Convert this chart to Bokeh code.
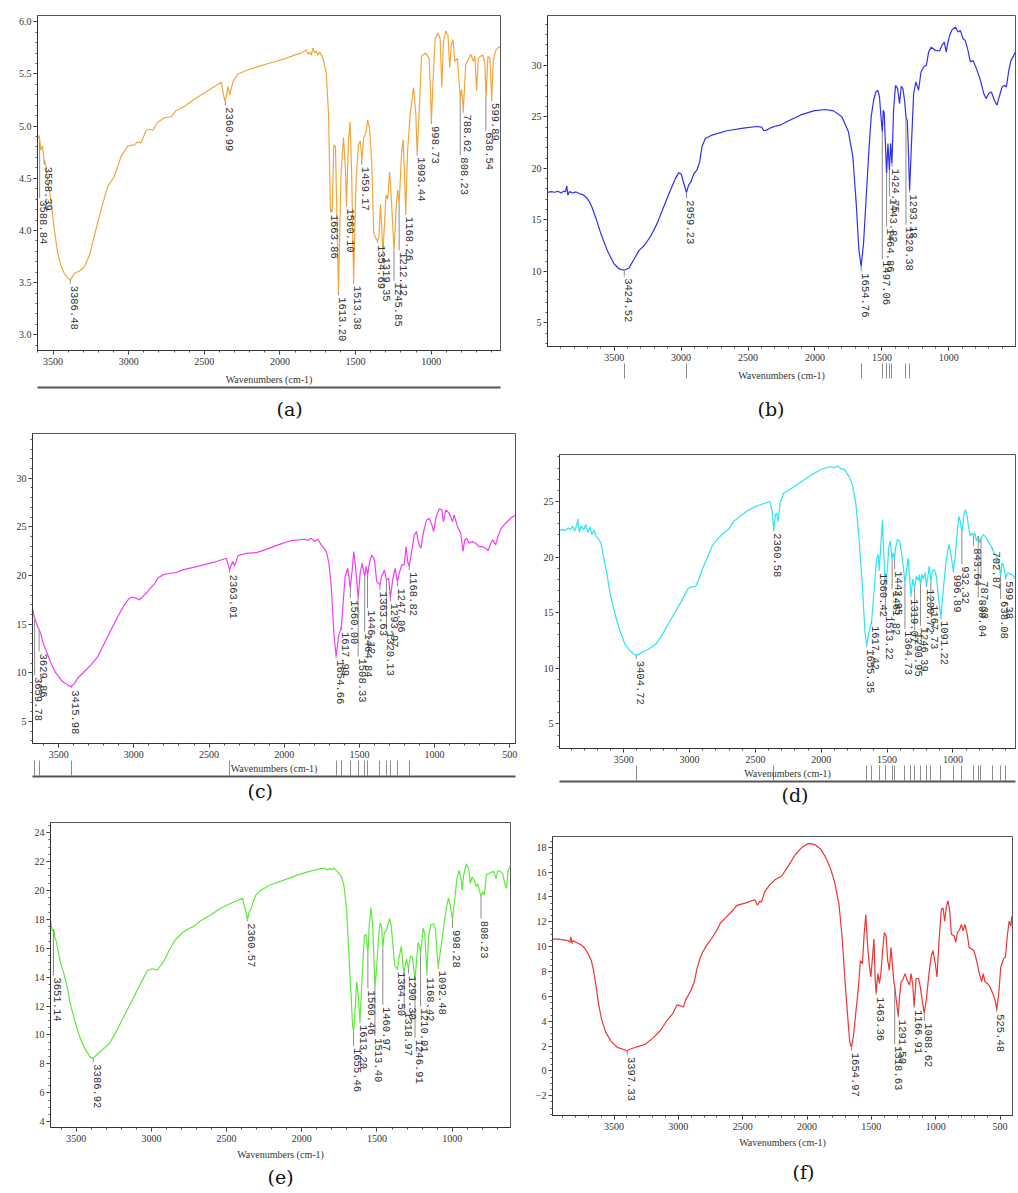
import math
from bokeh.plotting import figure
from bokeh.models import (Range1d, SingleIntervalTicker, FixedTicker, LinearAxis,
                          PrintfTickFormatter, Title)
from bokeh.layouts import column, row
from bokeh.core.properties import value
from bokeh.embed import file_html
from bokeh.resources import INLINE

# ---------------- data (wavenumber cm-1, %T) ----------------
A_SPEC = [(3603,4.88),(3592,4.91),(3581,4.77),(3570,4.81),(3559,4.67),(3548,4.63),(3537,4.48),(3515,4.30),(3492,4.01),(3470,3.79),(3448,3.66),(3426,3.59),(3400,3.54),(3386,3.53),(3374,3.55),(3360,3.59),(3327,3.61),(3294,3.65),(3260,3.76),(3227,3.95),(3183,4.20),(3139,4.42),(3095,4.52),(3050,4.71),(3006,4.81),(2962,4.82),(2940,4.85),(2918,4.84),(2885,4.96),(2863,4.97),(2841,4.96),(2807,5.04),(2763,5.08),(2719,5.09),(2686,5.15),(2631,5.19),(2564,5.26),(2498,5.32),(2432,5.38),(2388,5.42),(2365,5.24),(2354,5.29),(2343,5.38),(2332,5.30),(2310,5.43),(2277,5.50),(2211,5.54),(2122,5.58),(2078,5.60),(1969,5.645),(1903,5.68),(1859,5.70),(1826,5.73),(1815,5.69),(1804,5.71),(1793,5.68),(1782,5.75),(1771,5.70),(1760,5.72),(1749,5.68),(1738,5.71),(1716,5.65),(1694,5.51),(1679,5.12),(1666,4.20),(1655,4.18),(1644,4.82),(1633,4.80),(1624,4.17),(1613,3.41),(1602,4.17),(1596,4.55),(1580,4.89),(1567,4.58),(1560,4.25),(1547,4.86),(1536,5.04),(1525,4.48),(1513,3.52),(1497,4.48),(1481,4.82),(1468,4.86),(1459,4.67),(1446,4.89),(1431,4.94),(1420,5.06),(1407,4.97),(1393,4.64),(1380,3.98),(1365,3.92),(1355,3.90),(1345,3.95),(1336,4.25),(1328,4.04),(1319,3.79),(1299,4.34),(1288,4.30),(1275,4.56),(1262,4.26),(1246,3.81),(1231,4.23),(1222,4.39),(1212,4.26),(1196,4.74),(1185,4.87),(1168,4.17),(1157,4.74),(1139,5.12),(1117,5.37),(1102,5.12),(1093,4.74),(1080,5.12),(1064,5.67),(1036,5.70),(1014,5.65),(1005,5.34),(999,5.04),(988,5.43),(974,5.84),(955,5.89),(941,5.84),(930,5.37),(919,5.81),(904,5.91),(889,5.87),(878,5.56),(867,5.78),(856,5.83),(845,5.62),(827,5.65),(808,5.27),(799,5.35),(788,5.15),(772,5.59),(750,5.65),(739,5.69),(721,5.62),(711,5.67),(700,5.34),(689,5.65),(674,5.67),(658,5.68),(645,5.60),(638,5.27),(625,5.67),(612,5.65),(600,5.26),(590,5.62),(575,5.72),(553,5.76),(542,5.75)]
A_PK = [3588.84, 3558.39, 3386.48, 2360.99, 1663.86, 1613.20, 1560.10, 1513.38, 1459.17, 1354.69, 1319.35, 1245.85, 1212.12, 1168.26, 1093.44, 998.73, 808.23, 788.62, 638.54, 599.89]
A_PK_V = [4.85, 4.67, 3.53, 5.24, 4.20, 3.41, 4.25, 3.52, 4.67, 3.90, 3.79, 3.81, 4.26, 4.17, 4.74, 5.04, 5.27, 5.15, 5.27, 5.26]
A_TX_V = [4.31, 4.63, 3.49, 5.20, 4.17, 3.38, 4.23, 3.49, 4.63, 3.88, 3.76, 3.52, 3.81, 4.15, 4.72, 5.02, 4.72, 5.13, 4.96, 5.24]

B_SPEC = [(4002,17.65),(3970,17.74),(3945,17.68),(3921,17.77),(3896,17.61),(3876,17.81),(3864,17.71),(3854,18.29),(3846,17.39),(3834,17.74),(3809,17.61),(3785,17.71),(3760,17.55),(3735,17.45),(3718,17.29),(3703,17.10),(3686,16.77),(3668,16.29),(3636,15.16),(3599,13.64),(3549,11.94),(3500,10.71),(3463,10.23),(3426,10.10),(3389,10.32),(3351,11.19),(3314,12.03),(3277,12.48),(3228,13.39),(3178,14.68),(3129,16.29),(3079,17.90),(3042,19.03),(3017,19.58),(3000,19.45),(2980,18.55),(2960,17.65),(2943,18.39),(2926,18.71),(2906,19.45),(2881,19.84),(2861,20.65),(2844,22.10),(2819,22.90),(2770,23.23),(2658,23.65),(2535,23.90),(2436,24.06),(2399,24.00),(2381,23.65),(2361,23.71),(2337,23.90),(2287,24.13),(2261,24.19),(2211,24.52),(2111,25.16),(2011,25.58),(1924,25.71),(1862,25.58),(1799,25.00),(1750,23.55),(1717,21.13),(1692,16.61),(1672,12.10),(1655,10.48),(1637,12.74),(1617,17.26),(1597,21.77),(1580,25.00),(1562,26.61),(1545,27.42),(1530,27.58),(1518,26.94),(1508,25.20),(1497,23.55),(1490,25.65),(1483,25.39),(1465,19.52),(1455,22.42),(1444,19.84),(1435,22.42),(1425,20.48),(1413,25.65),(1398,28.06),(1383,27.74),(1368,26.29),(1355,27.97),(1343,27.74),(1330,26.50),(1320,25.00),(1310,24.60),(1303,22.10),(1293,17.90),(1281,21.77),(1263,27.26),(1246,28.39),(1226,27.58),(1208,29.35),(1188,29.84),(1168,30.00),(1151,31.29),(1131,31.77),(1101,31.45),(1069,31.39),(1051,31.94),(1034,32.26),(1019,31.29),(1009,32.10),(994,32.90),(976,33.45),(951,33.71),(931,33.23),(914,33.39),(894,32.58),(877,32.42),(857,31.45),(839,30.32),(819,30.48),(794,29.68),(764,28.55),(739,27.26),(722,26.77),(702,27.26),(682,27.42),(660,26.61),(640,26.13),(620,27.10),(602,27.90),(585,28.06),(570,27.90),(552,29.52),(535,30.48),(515,30.97),(503,31.29)]
B_PK = [3424.52, 2959.23, 1654.76, 1497.06, 1464.86, 1443.82, 1424.75, 1320.38, 1293.18]
B_PK_V = [10.10, 17.65, 10.48, 23.55, 19.52, 19.84, 20.48, 25.00, 17.90]
B_TX_V = [9.52, 17.10, 10.00, 11.19, 14.35, 17.26, 20.16, 14.52, 17.65]

C_SPEC = [(3674,16.64),(3663,15.79),(3651,15.27),(3640,14.76),(3629,14.42),(3618,14.00),(3607,13.22),(3585,12.36),(3551,10.99),(3518,9.96),(3474,9.11),(3429,8.66),(3416,8.62),(3396,8.87),(3374,9.45),(3329,10.14),(3285,10.82),(3240,11.68),(3196,13.05),(3152,14.42),(3107,15.79),(3063,16.99),(3030,17.67),(3007,17.77),(2985,17.67),(2963,17.50),(2952,17.67),(2930,18.01),(2919,18.18),(2896,18.60),(2863,19.14),(2841,19.73),(2808,20.07),(2763,20.24),(2718,20.31),(2674,20.58),(2563,20.99),(2452,21.44),(2385,21.78),(2363,20.58),(2352,21.10),(2341,21.44),(2330,20.99),(2307,22.05),(2252,22.29),(2185,22.36),(2129,22.64),(2041,23.15),(1952,23.60),(1864,23.73),(1842,23.60),(1820,23.84),(1798,23.49),(1776,23.73),(1754,23.15),(1720,22.47),(1703,21.27),(1687,18.87),(1670,14.07),(1655,11.68),(1639,13.73),(1620,14.76),(1610,16.81),(1595,19.90),(1577,20.75),(1561,18.70),(1548,20.58),(1537,22.47),(1526,20.92),(1508,17.67),(1495,20.24),(1482,21.27),(1465,19.90),(1455,20.92),(1446,20.07),(1433,21.27),(1418,22.12),(1400,21.61),(1385,19.38),(1364,19.04),(1352,19.90),(1334,20.58),(1320,19.55),(1305,19.73),(1294,17.67),(1279,19.55),(1263,20.75),(1247,19.38),(1235,20.24),(1219,21.10),(1202,21.10),(1190,22.98),(1179,21.44),(1169,20.92),(1151,22.64),(1135,24.18),(1120,24.52),(1107,23.32),(1091,22.81),(1073,24.52),(1054,25.72),(1036,25.89),(1018,25.21),(1007,24.52),(992,25.89),(970,26.85),(952,26.75),(941,25.55),(925,26.75),(903,26.40),(881,25.55),(870,26.23),(848,25.03),(826,24.35),(811,22.47),(800,23.66),(786,23.84),(771,23.32),(749,23.49),(727,23.32),(705,22.98),(683,22.98),(661,22.81),(643,22.57),(627,23.32),(612,23.66),(594,23.15),(579,24.00),(557,24.86),(528,25.38),(495,25.89),(462,26.23)]
C_PK = [3659.78, 3629.86, 3415.98, 2363.01, 1654.66, 1617.99, 1560.00, 1508.33, 1464.84, 1446.12, 1363.63, 1320.13, 1293.97, 1247.06, 1168.82]
C_PK_V = [15.50, 14.42, 8.62, 20.58, 11.68, 14.76, 18.70, 17.67, 19.90, 20.07, 19.04, 19.55, 17.67, 19.38, 20.92]
C_TX_V = [9.79, 12.19, 8.42, 20.30, 11.50, 14.40, 17.67, 11.68, 14.25, 16.64, 18.53, 14.42, 17.33, 18.87, 20.58]

D_SPEC = [(3988,22.41),(3968,22.47),(3943,22.38),(3923,22.62),(3905,22.47),(3888,22.77),(3873,22.32),(3855,23.01),(3848,23.42),(3838,22.23),(3823,22.83),(3805,22.41),(3788,22.92),(3773,22.23),(3755,22.71),(3743,22.02),(3725,22.41),(3710,21.88),(3693,21.64),(3673,21.28),(3655,20.09),(3630,18.60),(3605,16.82),(3567,14.88),(3530,13.39),(3492,12.20),(3455,11.61),(3417,11.22),(3404,11.20),(3392,11.22),(3355,11.46),(3305,11.76),(3254,12.20),(3204,13.10),(3154,14.14),(3104,15.18),(3054,16.22),(3011,17.17),(2979,17.35),(2954,17.35),(2929,18.01),(2904,18.90),(2866,19.94),(2829,20.98),(2791,21.58),(2741,22.17),(2704,22.47),(2666,23.21),(2616,23.66),(2566,24.11),(2503,24.55),(2441,24.79),(2391,25.00),(2373,24.11),(2361,22.47),(2348,23.81),(2340,23.96),(2329,23.21),(2312,24.85),(2287,25.74),(2224,26.19),(2150,26.79),(2075,27.38),(2000,27.89),(1937,28.12),(1900,28.04),(1875,28.18),(1850,27.95),(1825,27.89),(1788,27.23),(1763,26.49),(1738,24.85),(1713,21.58),(1688,17.41),(1668,13.24),(1655,12.05),(1638,13.24),(1618,14.14),(1600,16.82),(1580,19.79),(1568,20.24),(1560,18.90),(1545,21.58),(1536,23.30),(1526,20.39),(1513,17.41),(1501,18.60),(1486,20.98),(1476,21.43),(1462,19.79),(1453,20.39),(1443,19.85),(1436,20.83),(1421,21.58),(1406,21.43),(1391,20.39),(1376,19.00),(1365,17.71),(1354,18.60),(1341,19.94),(1330,18.30),(1319,16.52),(1305,18.01),(1291,17.20),(1278,18.30),(1262,17.90),(1255,18.40),(1246,17.50),(1236,18.45),(1224,18.01),(1212,18.60),(1201,17.41),(1190,18.30),(1180,19.20),(1168,17.80),(1156,18.75),(1141,18.90),(1126,18.30),(1109,16.22),(1091,14.58),(1071,17.41),(1051,19.79),(1031,21.13),(1019,20.54),(997,18.75),(985,19.79),(968,22.17),(955,23.66),(944,23.21),(932,22.17),(919,23.66),(907,24.26),(894,23.81),(882,22.77),(869,21.88),(857,22.17),(844,21.88),(834,22.17),(822,21.43),(808,21.88),(797,21.28),(787,21.64),(772,22.02),(752,21.82),(732,21.43),(703,20.83),(689,20.39),(670,20.09),(652,19.49),(638,18.30),(627,19.49),(615,19.20),(599,18.15),(582,18.60),(565,18.45),(550,18.45),(535,18.20),(525,18.00)]
D_PK = [3404.72, 2360.58, 1655.35, 1617.42, 1560.42, 1513.22, 1461.82, 1442.95, 1364.73, 1319.07, 1290.95, 1246.39, 1200.72, 1167.73, 1091.22, 996.89, 932.32, 843.64, 808.04, 787.33, 702.87, 638.08, 599.38]
D_PK_V = [11.20, 22.47, 12.05, 14.14, 18.90, 17.41, 19.79, 19.85, 17.71, 16.52, 17.20, 17.50, 17.41, 17.80, 14.58, 18.75, 22.17, 21.88, 21.88, 21.64, 20.83, 18.30, 18.15]
D_TX_V = [10.86, 22.32, 11.90, 13.99, 18.75, 14.88, 17.11, 18.90, 13.54, 16.40, 13.39, 13.84, 17.30, 15.86, 14.43, 18.60, 19.35, 20.98, 16.37, 18.00, 20.68, 16.22, 18.00]

E_SPEC = [(3671,17.98),(3665,17.53),(3658,17.19),(3649,17.30),(3642,16.73),(3633,16.50),(3627,16.16),(3616,15.60),(3605,15.03),(3582,14.24),(3560,13.33),(3538,12.08),(3505,10.83),(3471,9.70),(3438,8.97),(3405,8.45),(3387,8.38),(3360,8.67),(3327,8.97),(3283,9.36),(3238,10.15),(3194,11.06),(3149,11.97),(3105,12.87),(3061,13.78),(3027,14.46),(2994,14.58),(2961,14.51),(2938,14.80),(2916,15.14),(2894,15.60),(2872,16.05),(2838,16.62),(2794,17.07),(2750,17.37),(2716,17.53),(2672,17.91),(2605,18.32),(2539,18.77),(2472,19.11),(2394,19.46),(2372,18.55),(2361,17.98),(2350,18.55),(2339,18.66),(2323,19.23),(2305,19.68),(2272,20.02),(2214,20.36),(2125,20.70),(2036,21.04),(1947,21.32),(1880,21.50),(1847,21.54),(1830,21.42),(1813,21.52),(1800,21.44),(1787,21.56),(1764,21.32),(1736,20.93),(1720,20.36),(1702,18.77),(1689,16.05),(1675,13.33),(1662,10.60),(1655,10.26),(1647,11.51),(1635,13.67),(1624,12.65),(1613,10.94),(1600,13.78),(1584,16.85),(1573,16.96),(1560,15.60),(1551,17.64),(1540,18.82),(1529,17.64),(1513,13.33),(1502,14.69),(1491,16.50),(1480,17.75),(1469,17.53),(1461,16.05),(1451,17.07),(1435,17.30),(1417,18.05),(1406,17.64),(1395,16.39),(1382,14.80),(1364,14.58),(1353,15.37),(1337,16.16),(1326,14.60),(1319,14.35),(1304,15.26),(1290,14.58),(1277,15.48),(1264,15.37),(1247,13.78),(1237,15.14),(1226,16.39),(1215,16.05),(1210,15.60),(1193,17.41),(1182,16.96),(1168,14.24),(1157,16.73),(1142,17.64),(1124,17.68),(1111,17.30),(1100,15.60),(1092,14.69),(1075,16.05),(1057,17.41),(1039,18.77),(1024,19.46),(1013,19.00),(998,17.98),(986,19.11),(968,20.82),(953,21.38),(939,20.70),(933,20.02),(924,21.04),(906,21.84),(890,21.50),(879,20.48),(868,20.93),(853,20.70),(841,20.25),(830,20.48),(819,20.02),(808,19.57),(797,19.91),(786,19.68),(772,21.09),(746,21.23),(723,21.32),(708,20.82),(697,21.38),(679,21.32),(664,21.16),(650,20.48),(639,20.14),(628,21.38),(612,21.72)]
E_PK = [3651.14, 3386.92, 2360.57, 1655.46, 1613.20, 1560.46, 1513.40, 1460.97, 1364.50, 1318.97, 1290.30, 1246.91, 1210.01, 1168.42, 1092.48, 998.28, 808.23]
E_PK_V = [17.30, 8.38, 17.98, 10.26, 10.94, 15.60, 13.33, 16.05, 14.58, 14.35, 14.58, 13.78, 15.60, 14.24, 14.69, 17.98, 19.57]
E_TX_V = [14.12, 8.11, 17.87, 9.24, 10.83, 13.21, 9.92, 12.08, 14.50, 11.74, 14.24, 9.81, 11.97, 14.12, 14.58, 17.41, 18.05]

F_SPEC = [(3978,10.61),(3932,10.61),(3881,10.53),(3855,10.48),(3843,10.34),(3835,10.79),(3827,10.26),(3817,10.48),(3792,10.34),(3754,10.13),(3728,9.89),(3703,9.47),(3677,8.89),(3659,8.10),(3639,6.78),(3621,5.46),(3596,4.13),(3563,3.08),(3525,2.42),(3474,1.89),(3397,1.62),(3372,1.76),(3321,1.94),(3257,2.15),(3194,2.68),(3143,3.21),(3092,4.00),(3041,4.66),(3010,5.32),(2985,5.24),(2960,5.14),(2944,5.72),(2921,6.12),(2901,6.51),(2876,7.17),(2858,8.10),(2837,8.89),(2812,9.55),(2774,10.21),(2736,10.74),(2697,11.40),(2672,11.93),(2634,12.32),(2583,12.85),(2545,13.33),(2481,13.51),(2405,13.78),(2385,13.33),(2367,13.65),(2354,13.59),(2328,14.44),(2290,14.97),(2252,15.36),(2195,15.71),(2143,16.55),(2091,17.40),(2038,18.01),(1999,18.27),(1973,18.30),(1934,18.19),(1895,17.87),(1856,17.21),(1817,16.29),(1783,15.10),(1751,13.38),(1725,10.48),(1705,7.31),(1686,4.66),(1668,2.29),(1655,1.89),(1639,2.81),(1621,4.66),(1600,6.78),(1585,8.89),(1569,8.63),(1556,11.00),(1543,12.59),(1530,10.21),(1517,8.63),(1504,7.57),(1491,9.15),(1480,10.61),(1470,7.31),(1463,6.25),(1450,7.83),(1437,7.04),(1426,7.83),(1412,9.68),(1399,11.14),(1386,10.87),(1373,8.89),(1360,8.10),(1347,9.95),(1334,8.23),(1325,7.17),(1318,6.78),(1305,5.60),(1291,4.40),(1282,5.85),(1269,7.17),(1256,7.31),(1238,7.83),(1222,7.31),(1204,6.91),(1191,7.83),(1178,6.91),(1167,5.19),(1152,7.44),(1133,7.44),(1120,6.78),(1105,5.72),(1089,4.66),(1073,5.72),(1052,7.83),(1034,9.29),(1021,9.68),(1003,8.63),(990,7.57),(974,10.48),(956,12.99),(943,13.12),(930,12.06),(917,13.25),(904,13.70),(891,12.85),(878,11.00),(857,10.87),(844,10.34),(831,11.14),(813,11.40),(800,11.80),(787,11.27),(773,11.80),(755,11.00),(740,9.95),(721,9.82),(703,9.68),(682,8.89),(661,7.83),(643,7.17),(630,7.83),(617,7.17),(599,7.04),(578,6.78),(557,6.25),(539,5.72),(525,4.93),(510,6.25),(494,8.36),(473,9.02),(458,9.15),(442,11.00),(429,12.06),(416,11.66),(408,12.46),(403,12.33)]
F_PK = [3397.33, 1654.97, 1463.36, 1318.63, 1291.50, 1166.91, 1088.62, 525.48]
F_PK_V = [1.62, 1.89, 6.25, 6.78, 4.40, 5.19, 4.66, 4.93]
F_TX_V = [1.28, 1.62, 6.12, 2.15, 4.27, 5.06, 4.00, 4.72]

X_LABEL = "Wavenumbers (cm-1)"
CAPTIONS = ["(a)", "(b)", "(c)", "(d)", "(e)", "(f)"]
COLORS = ["#F2A63A", "#3030F0", "#F23EF2", "#2DE4F0", "#5CEB3C", "#EE3434"]

NARROW = "Liberation Sans Narrow"


def panel(spec, pk, pk_v, tx_v, color, xr, yr, yint, yminor, yfmt,
          w, h, mbl, mbr, mbt, mbb, caption, cap_offset, cap_standoff,
          markers=None, separator=False, lab_standoff=4):
    xs = [a for a, _ in spec]
    ys = [b for _, b in spec]
    p = figure(width=w, height=h, x_range=Range1d(*xr), y_range=Range1d(*yr),
               toolbar_location=None, output_backend="svg", title=None,
               min_border_left=mbl, min_border_right=mbr,
               min_border_top=mbt, min_border_bottom=mbb,
               background_fill_color="white", border_fill_color="white",
               outline_line_color="#555555", outline_line_width=1)
    p.frame_align = False
    p.xgrid.visible = False
    p.ygrid.visible = False
    p.line(xs, ys, line_color=color, line_width=1.2)
    p.segment(x0=pk, y0=pk_v, x1=pk, y1=tx_v, line_color="#8c8c8c", line_width=1)
    p.text(x=pk, y=tx_v, text=[f"{v:.2f}" for v in pk], angle=-math.pi / 2,
           text_align="left", text_baseline="middle",
           text_font=value("Liberation Mono"), text_font_size="10.5px",
           text_color="#333333", x_offset=4, y_offset=2)

    xa = p.xaxis[0]
    xa.ticker = SingleIntervalTicker(interval=500, num_minor_ticks=5)
    xa.major_label_text_font = NARROW
    xa.major_label_text_font_size = "10px"
    xa.major_label_text_color = "#333333"
    xa.major_tick_out = 4
    xa.major_tick_in = 0
    xa.minor_tick_out = 2
    xa.minor_tick_in = 0
    xa.major_label_standoff = 3
    xa.axis_line_color = "#333333"
    xa.major_tick_line_color = "#333333"
    xa.minor_tick_line_color = "#555555"

    ya = p.yaxis[0]
    ya.ticker = SingleIntervalTicker(interval=yint, num_minor_ticks=yminor)
    if yfmt:
        ya.formatter = PrintfTickFormatter(format=yfmt)
    ya.major_label_text_font = NARROW
    ya.major_label_text_font_size = "10px"
    ya.major_label_text_color = "#333333"
    ya.major_tick_out = 4
    ya.major_tick_in = 0
    ya.minor_tick_out = 2
    ya.minor_tick_in = 0
    ya.major_label_standoff = 2
    ya.axis_line_color = "#333333"
    ya.major_tick_line_color = "#333333"
    ya.minor_tick_line_color = "#555555"

    lab_kw = dict(axis_label=X_LABEL, axis_label_text_font=NARROW,
                  axis_label_text_font_size="10px",
                  axis_label_text_font_style="normal",
                  axis_label_text_color="#333333")
    if markers is None:
        for k, v in lab_kw.items():
            setattr(xa, k, v)
        xa.axis_label_standoff = lab_standoff
    else:
        mk = LinearAxis(ticker=FixedTicker(ticks=markers, minor_ticks=[]),
                        axis_line_color=None, major_tick_in=0, major_tick_out=15,
                        major_tick_line_color="#8c8c8c", minor_tick_line_color=None,
                        major_label_text_font_size="1px",
                        major_label_text_color=None, major_label_text_alpha=0,
                        major_label_standoff=0,
                        axis_label_standoff=lab_standoff, **lab_kw)
        p.add_layout(mk, "below")
    if separator:
        sep = LinearAxis(ticker=FixedTicker(ticks=[], minor_ticks=[]),
                         axis_line_color="#555555", axis_line_width=2,
                         major_tick_out=0, major_tick_in=0, minor_tick_out=0,
                         minor_tick_in=0, major_label_text_font_size="1px",
                         major_label_text_color=None, major_label_standoff=0)
        p.add_layout(sep, "below")
    p.add_layout(Title(text=caption, align="left", offset=cap_offset,
                       standoff=cap_standoff, text_font="DejaVu Serif",
                       text_font_size="19px", text_font_style="normal",
                       text_color="#111111"), "below")
    return p


fa = panel(A_SPEC, A_PK, A_PK_V, A_TX_V, COLORS[0], (3603, 542), (2.85, 6.06), 0.5, 5, "%.1f",
           520, 432, 37, 20, 15, 82, CAPTIONS[0], 239, 17, separator=True, lab_standoff=6)
fb = panel(B_SPEC, B_PK, B_PK_V, B_TX_V, COLORS[1], (3998, 502), (2.7, 34.84), 5, 5, None,
           496, 432, 27, 1, 15, 85, CAPTIONS[1], 210, 25, markers=B_PK, lab_standoff=-9)
fc = panel(C_SPEC, C_PK, C_PK_V, C_TX_V, COLORS[2], (3674, 462), (2.74, 34.6), 5, 5, None,
           525, 379, 32, 10, 1, 68, CAPTIONS[2], 215, 2, markers=C_PK, separator=True,
           lab_standoff=-13)
fd = panel(D_SPEC, D_PK, D_PK_V, D_TX_V, COLORS[3], (3988, 525), (2.79, 29.22), 5, 5, None,
           491, 379, 34, 1, 22, 63, CAPTIONS[3], 222, 0, markers=D_PK, separator=True,
           lab_standoff=-13)
fe = panel(E_SPEC, E_PK, E_PK_V, E_TX_V, COLORS[4], (3671, 612), (3.6, 24.7), 2, 4, None,
           520, 380, 50, 10, 11, 64, CAPTIONS[4], 217, 2)
ff = panel(F_SPEC, F_PK, F_PK_V, F_TX_V, COLORS[5], (3978, 403), (-3.59, 18.87), 2, 4, None,
           496, 380, 32, 4, 25, 72, CAPTIONS[5], 240, 17)

layout = column(row(fa, fb), row(fc, fd), row(fe, ff))
open("out.html", "w").write(file_html(layout, INLINE))
